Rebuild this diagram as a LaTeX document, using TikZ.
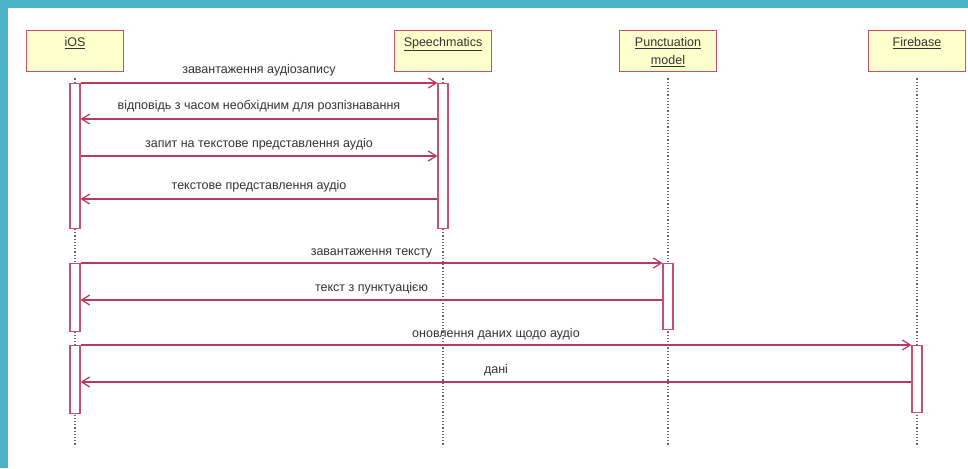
\documentclass[tikz,border=0pt]{standalone}
\usepackage{fontspec}
\setmainfont{Liberation Sans}
\usetikzlibrary{arrows.meta}
\definecolor{teal1}{HTML}{4DB3C9}
\definecolor{boxfill}{HTML}{FFFFCC}
\definecolor{boxline}{HTML}{C8506E}
\definecolor{msgline}{HTML}{B8385F}
\definecolor{txt}{HTML}{333333}
\begin{document}
\begin{tikzpicture}[x=1pt,y=-1pt,
 head/.style={draw=boxline,line width=1.5pt,fill=boxfill,minimum width=97pt,minimum height=41pt,inner sep=0pt,anchor=north},
 title/.style={font=\fontsize{12.5}{18}\selectfont,text=txt,align=center,inner sep=0pt,anchor=north,yshift=-7pt},
 act/.style={draw=boxline,line width=1.2pt,fill=white,minimum width=10pt,inner sep=0pt,anchor=north},
 life/.style={draw=gray!80!black,line width=1.1pt,dash pattern=on 1.2pt off 2pt},
 msg/.style={draw=msgline,line width=1.2pt,-{Straight Barb[length=8pt,width=10pt]}},
 ret/.style={draw=msgline,line width=1.2pt,-{Straight Barb[length=8pt,width=10pt]}},
 lbl/.style={font=\fontsize{12.5}{14}\selectfont,text=txt,inner sep=0pt,anchor=base,midway,yshift=9pt}]
\useasboundingbox (0,0) rectangle (968,468);
\fill[white] (0,0) rectangle (968,468);
\fill[teal1] (0,0) rectangle (968,8);
\fill[teal1] (0,0) rectangle (8,468);

% lifeline heads
\node[head,label={[title]north:\underline{iOS}}] (ios) at (75,30) {};
\node[head,label={[title]north:\underline{Speechmatics}}] (sp) at (443,30) {};
\node[head,label={[title]north:\underline{Punctuation}\\\underline{model}}] (pm) at (668,30) {};
\node[head,label={[title]north:\underline{Firebase}}] (fb) at (917,30) {};

% lifeline ends
\coordinate (iosend) at (75,445);
\coordinate (spend) at (443,445);
\coordinate (pmend) at (668,445);
\coordinate (fbend) at (917,445);

\draw[life] ([yshift=-6pt]ios.south) -- (iosend);
\draw[life] ([yshift=-6pt]sp.south) -- (spend);
\draw[life] ([yshift=-6pt]pm.south) -- (pmend);
\draw[life] ([yshift=-6pt]fb.south) -- (fbend);

% activations
\node[act,minimum height=145pt] (a1) at (75,83) {};
\node[act,minimum height=145pt] (s1) at (443,83) {};
\node[act,minimum height=68pt] (a2) at (75,263) {};
\node[act,minimum height=66pt] (p1) at (668,263) {};
\node[act,minimum height=68pt] (a3) at (75,345) {};
\node[act,minimum height=67pt] (f1) at (917,345) {};

% messages
\draw[msg] (a1.north east) -- (s1.north west) node[lbl] {завантаження аудіозапису};
\draw[ret] ([yshift=-36pt]s1.north west) -- ([yshift=-36pt]a1.north east) node[lbl] {відповідь з часом необхідним для розпізнавання};
\draw[msg] ([yshift=-73pt]a1.north east) -- ([yshift=-73pt]s1.north west) node[lbl] {запит на текстове представлення аудіо};
\draw[ret] ([yshift=-116pt]s1.north west) -- ([yshift=-116pt]a1.north east) node[lbl,yshift=1pt] {текстове представлення аудіо};

\draw[msg] (a2.north east) -- (p1.north west) node[lbl,yshift=-1pt] {завантаження тексту};
\draw[ret] ([yshift=-37pt]p1.north west) -- ([yshift=-37pt]a2.north east) node[lbl] {текст з пунктуацією};

\draw[msg] (a3.north east) -- (f1.north west) node[lbl,yshift=-1pt] {оновлення даних щодо аудіо};
\draw[ret] ([yshift=-37pt]f1.north west) -- ([yshift=-37pt]a3.north east) node[lbl] {дані};
\end{tikzpicture}
\end{document}
